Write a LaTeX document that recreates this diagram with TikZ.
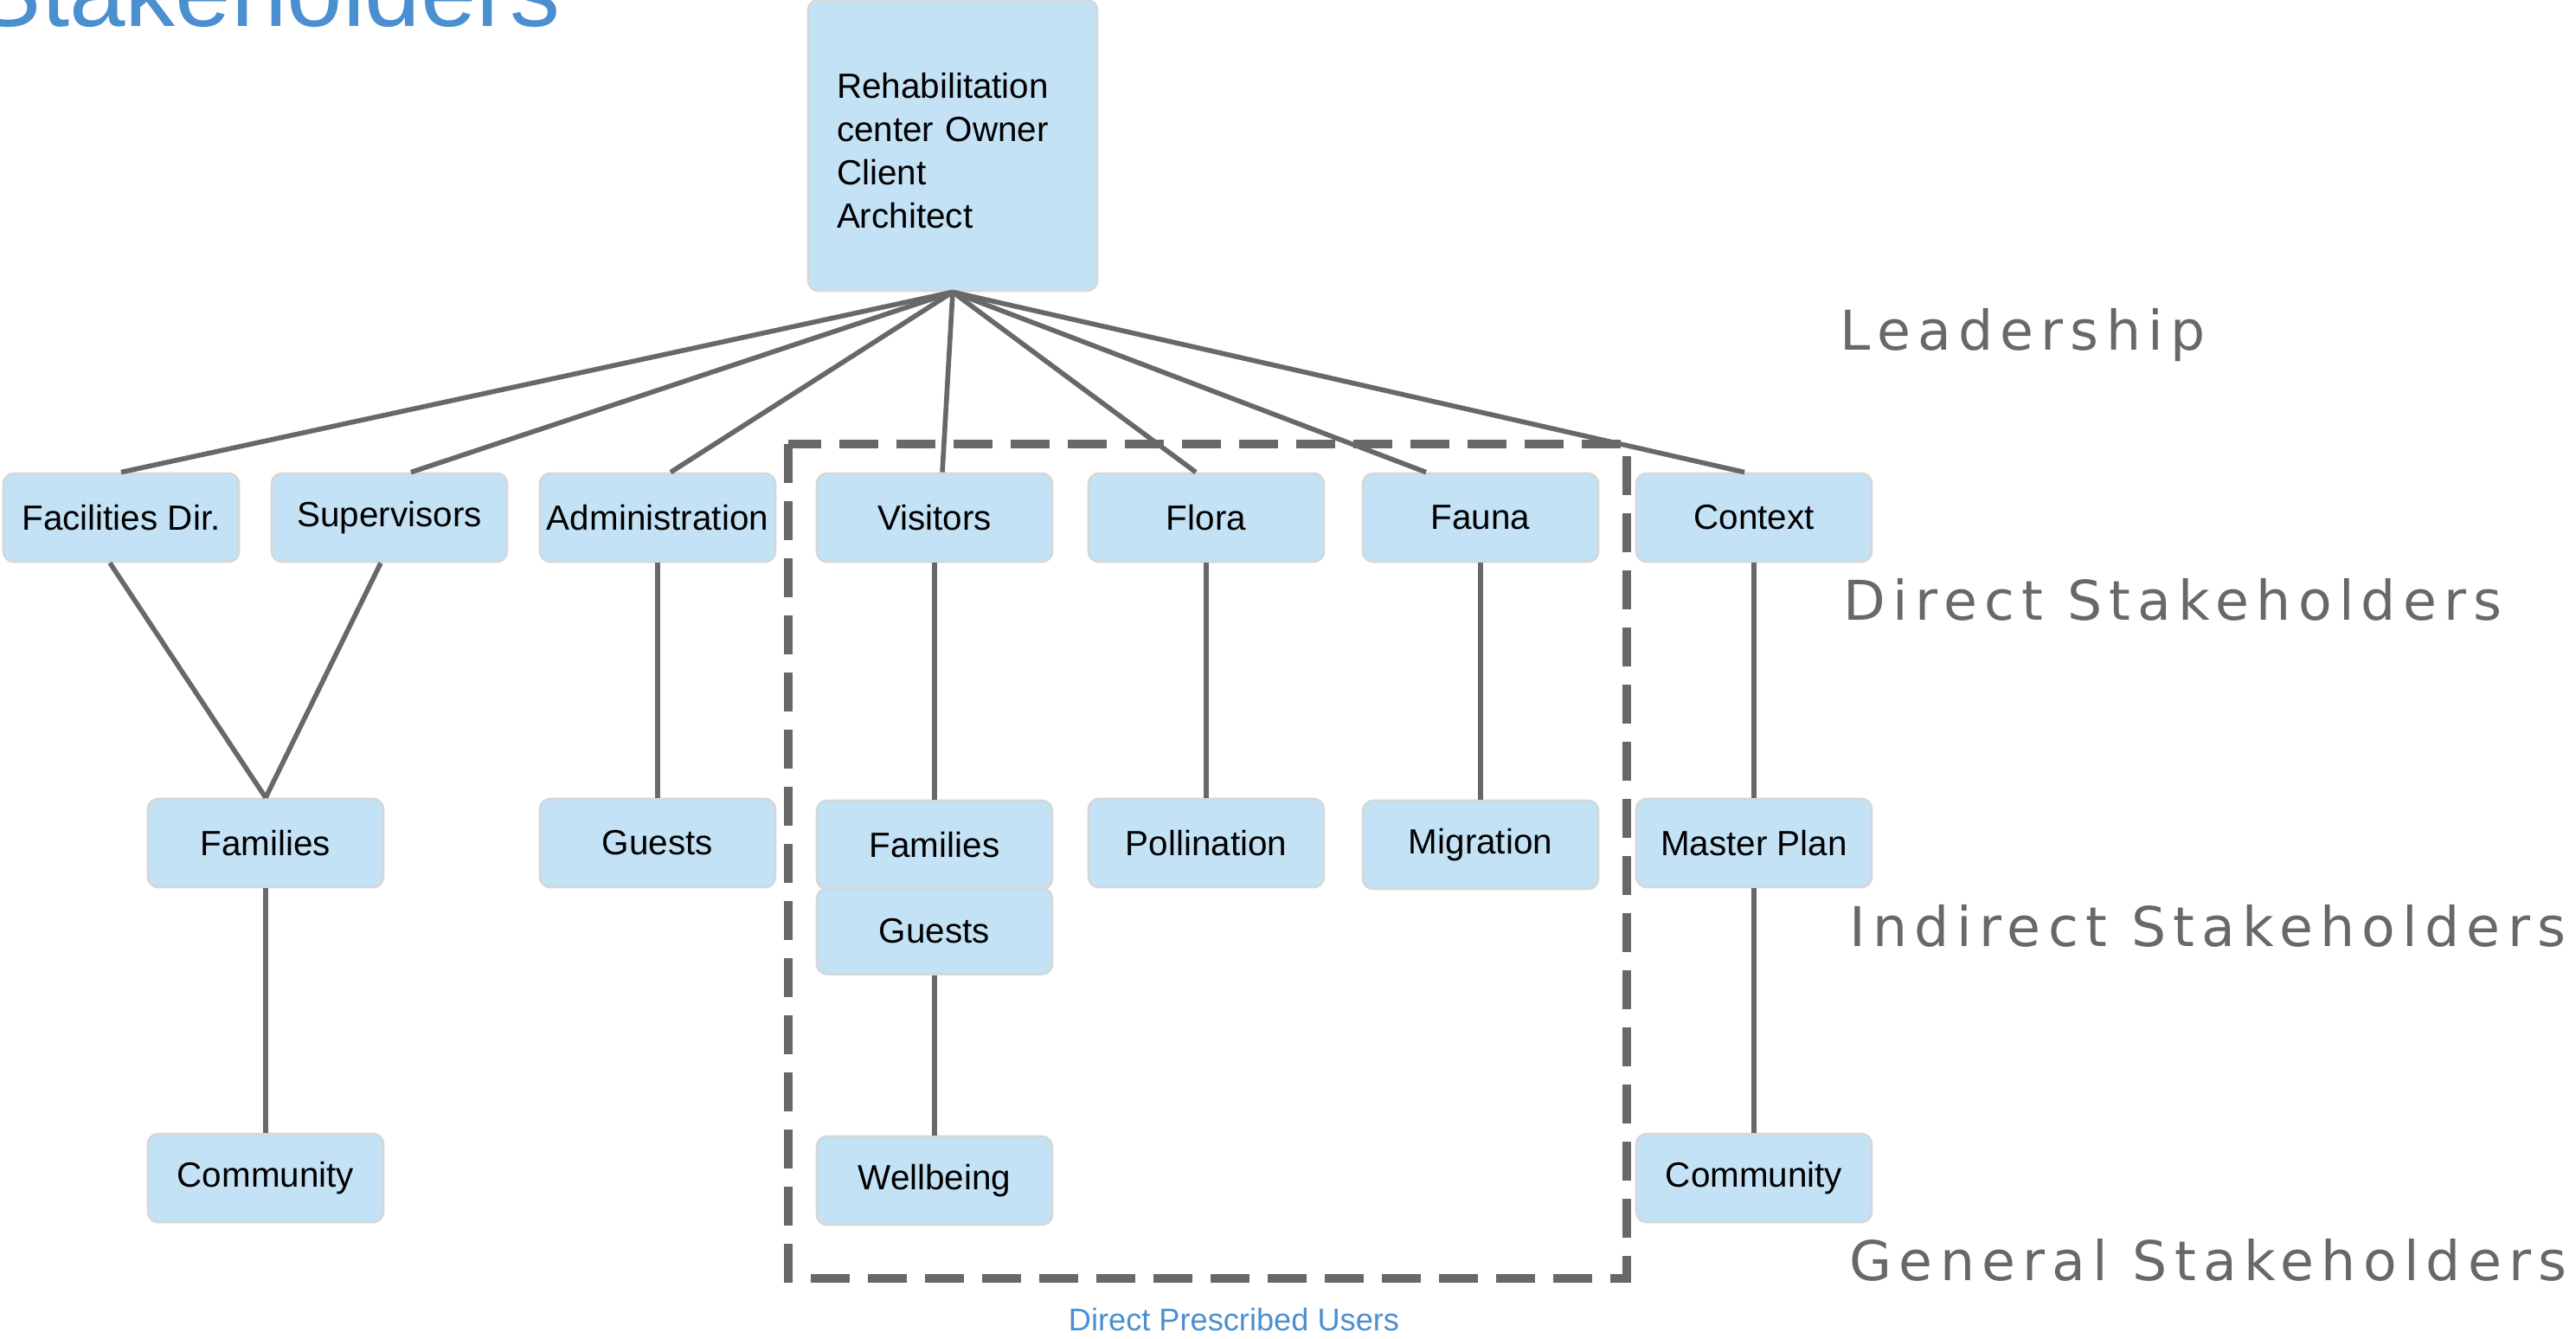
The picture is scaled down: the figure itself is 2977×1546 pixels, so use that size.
\documentclass[tikz,border=0pt]{standalone}
\usepackage{fontspec}
\setmainfont{Liberation Sans}
\newfontfamily\tagfont[LetterSpace=13]{DejaVu Sans}
\usetikzlibrary{positioning, calc}
\usepackage{xcolor}
\definecolor{boxblue}{RGB}{196,226,245}
\definecolor{boxedge}{RGB}{212,216,220}
\definecolor{linkgray}{RGB}{104,104,104}
\definecolor{tagblue}{RGB}{74,143,207}

\begin{document}
\begin{tikzpicture}[x=0.1mm, y=-0.1mm,
  stake/.style={draw=boxedge, line width=0.8pt, fill=boxblue, rounded corners=1.2mm,
    minimum width=27.2mm, minimum height=10.2mm, inner sep=0pt,
    font=\fontsize{11.5}{14.2}\selectfont},
  link/.style={draw=linkgray, line width=1.6pt},
  frame/.style={draw=linkgray, line width=3.1pt, dash pattern=on 4.5mm off 2.1mm},
  level/.style={anchor=base west, inner sep=0pt, text=linkgray,
    font=\tagfont\fontsize{18}{22}\selectfont}]
  \useasboundingbox (0,0) rectangle (2977,1546);

  \begin{scope}
    \clip (0,0) rectangle (2977,1546);
    \node[anchor=base west, inner sep=0pt, text=tagblue, font=\fontsize{33}{40}\selectfont] (title) at (-30,31) {Stakeholders};
  \end{scope}

  \node[stake, minimum width=33.4mm, minimum height=33.6mm, text width=26.8mm, align=left] (lead) at (1101,168)
    {\rule{0pt}{11.8pt}Rehabilitation\\center Owner\\Client\\Architect};

  \node[stake] (fac) at (140,598) {Facilities Dir.};
  \node[stake] (sup) at (450,598) {Supervisors};
  \node[stake] (adm) at (760,598) {Administration};
  \node[stake] (vis) at (1080,598) {Visitors};
  \node[stake] (flo) at (1394,598) {Flora};
  \node[stake] (fau) at (1711,598) {Fauna};
  \node[stake] (con) at (2027,598) {Context};

  \node[stake] (famA) at (307,974) {Families};
  \node[stake] (gueA) at (760,974) {Guests};
  \node[stake] (famB) at (1080,976) {Families};
  \node[stake, minimum height=9.9mm] (gueB) at (1080,1076) {Guests};
  \node[stake] (pol) at (1394,974) {Pollination};
  \node[stake] (mig) at (1711,976) {Migration};
  \node[stake] (mas) at (2027,974) {Master Plan};

  \node[stake] (comA) at (307,1361) {Community};
  \node[stake] (wel) at (1080,1364) {Wellbeing};
  \node[stake] (comB) at (2027,1361) {Community};

  \draw[link] (lead.south) -- (fac.north);
  \draw[link] (lead.south) -- ([xshift=2.5mm]sup.north);
  \draw[link] (lead.south) -- ([xshift=1.5mm]adm.north);
  \draw[link] (lead.south) -- ([xshift=0.9mm]vis.north);
  \draw[link] (lead.south) -- ([xshift=-1.2mm]flo.north);
  \draw[link] (lead.south) -- ([xshift=-6.3mm]fau.north);
  \draw[link] (lead.south) -- ([xshift=-1.1mm]con.north);

  \draw[link] ([xshift=-1.3mm]fac.south) -- (famA.north);
  \draw[link] ([xshift=-1mm]sup.south) -- (famA.north);
  \draw[link] (adm.south) -- (gueA.north);
  \draw[link] (vis.south) -- (famB.north);
  \draw[link] (flo.south) -- (pol.north);
  \draw[link] (fau.south) -- (mig.north);
  \draw[link] (con.south) -- (mas.north);
  \draw[link] (famA.south) -- (comA.north);
  \draw[link] (gueB.south) -- (wel.north);
  \draw[link] (mas.south) -- (comB.north);

  \draw[frame] (911,513) rectangle (1880,1477);
  \node[anchor=base, inner sep=0pt, text=tagblue, font=\fontsize{10.3}{12}\selectfont] (users) at (1426,1537) {Direct Prescribed Users};

  \node[level] (leadership) at (2126,404) {Leadership};
  \node[level] (direct) at (2130,716) {Direct Stakeholders};
  \node[level] (indirect) at (2137,1093) {Indirect Stakeholders};
  \node[level] (general) at (2137,1479) {General Stakeholders};
\end{tikzpicture}
\end{document}
